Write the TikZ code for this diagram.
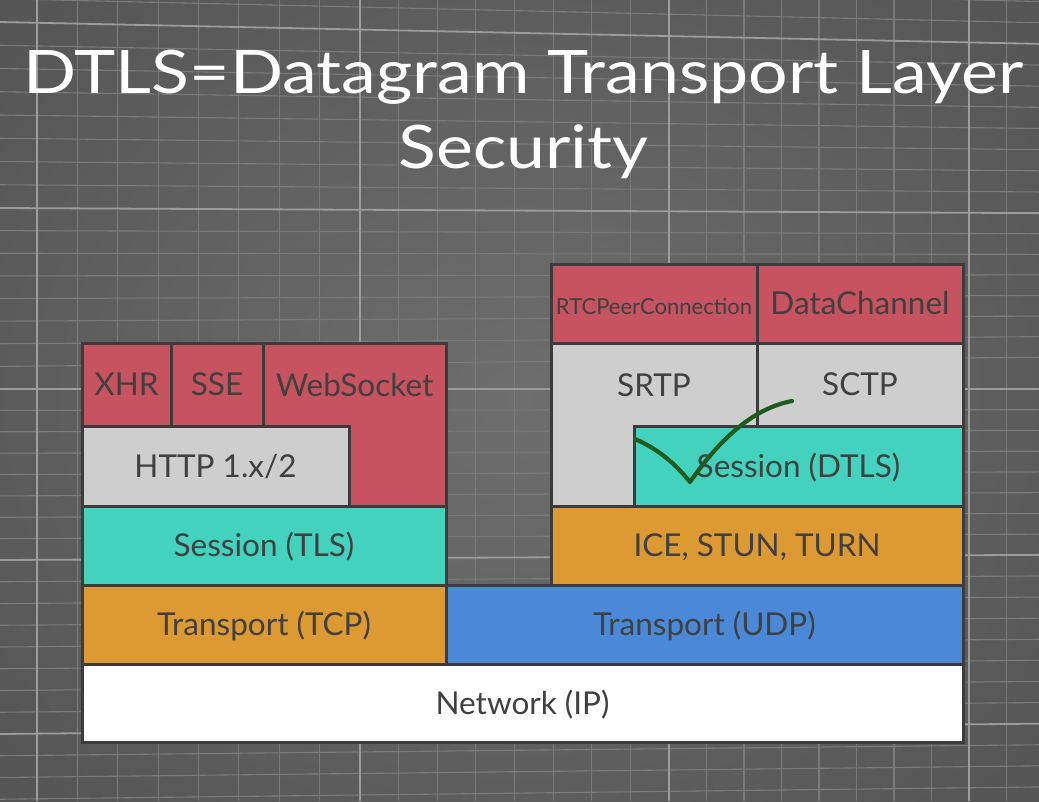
\documentclass[tikz,border=0pt]{standalone}
\usepackage{fontspec}
\setmainfont{Lato}
\definecolor{bginner}{RGB}{110,110,110}
\definecolor{bgouter}{RGB}{86,86,86}
\definecolor{gridminor}{RGB}{122,122,122}
\definecolor{gridmajor}{RGB}{156,156,156}
\definecolor{edge}{RGB}{60,60,60}
\definecolor{ink}{RGB}{64,64,64}
\definecolor{apired}{RGB}{199,82,96}
\definecolor{protogray}{RGB}{206,206,206}
\definecolor{sessteal}{RGB}{66,210,190}
\definecolor{transorange}{RGB}{222,154,50}
\definecolor{udpblue}{RGB}{74,136,216}
\definecolor{tickgreen}{RGB}{30,92,30}
\begin{document}
\begin{tikzpicture}[x=1pt,y=-1pt,
  layer/.style={draw=edge, line width=3pt, inner sep=0pt, outer sep=0pt,
    anchor=north west, text=ink,
    font=\fontsize{31.5}{31.5}\selectfont, text height=22.5pt, text depth=0pt},
  lbl/.style={inner sep=0pt, text=ink,
    font=\fontsize{31.5}{31.5}\selectfont, text height=22.5pt, text depth=0pt},
  title/.style={text=white, inner sep=0pt, anchor=base,
    font=\fontsize{60}{60}\selectfont},
  minorline/.style={draw=gridminor, line width=1.1pt},
  majorline/.style={draw=gridmajor, line width=1.8pt},
  tick/.style={draw=tickgreen, line width=4.2pt, line cap=round, line join=round}]

\useasboundingbox (0,0) rectangle (1039,801);

% backdrop with a soft vignette
\shade[inner color=bginner, outer color=bgouter] (-150,-150) rectangle (1189,951);

% engineering grid
\begin{scope}
  \clip (0,0) rectangle (1039,801);
  % vertical minor lines
  \foreach \a/\b in {37/360, 360/669, 669/969, 969/1269, -263/37}{
    \foreach \k in {1,...,7}{
      \pgfmathsetmacro\xx{\a+(\b-\a)*\k/8}
      \draw[minorline] (\xx,0) -- (\xx,801);
    }
  }
  % horizontal minor lines
  \foreach \a/\b in {-164/22, 22/208, 208/389, 389/560, 560/734, 734/908}{
    \foreach \k in {1,...,7}{
      \pgfmathsetmacro\yy{\a+(\b-\a)*\k/8}
      \pgfmathsetmacro\ss{\yy<389 ? 0.09*(265-\yy) : -0.03*(\yy-389)}
      \draw[minorline] (0,\yy) -- (1039,\yy+\ss);
    }
  }
  % major lines
  \foreach \xx in {37,360,669,969}{
    \draw[majorline] (\xx,0) -- (\xx,801);
  }
  \foreach \yy in {22,208,389,560,734}{
    \pgfmathsetmacro\ss{\yy<389 ? 0.09*(265-\yy) : -0.03*(\yy-389)}
    \draw[majorline] (0,\yy) -- (1039,\yy+\ss);
  }
\end{scope}

% heading
\node[title] (head1) at (523.5,93) {\scalebox{1.163}[1]{DTLS=Datagram Transport Layer}};
\node[title] (head2) at (523.5,168) {\scalebox{1.163}[1]{Security}};

% ---------- HTTP stack (left) ----------
\node[layer, fill=apired, minimum width=183, minimum height=163] (ws) at (263,343) {};
\node[lbl] (wslbl) at (354.5,385) {WebSocket};
\node[layer, fill=apired, minimum width=89, minimum height=83] (xhr) at (82,343) {XHR};
\node[layer, fill=apired, minimum width=92, minimum height=83] (sse) at (171,343) {SSE};
\node[layer, fill=protogray, minimum width=267, minimum height=80] (http) at (82,426) {HTTP 1.x/2};
\node[layer, fill=sessteal, minimum width=364, minimum height=79] (tls) at (82,506) {Session (TLS)};
\node[layer, fill=transorange, minimum width=364, minimum height=79] (tcp) at (82,585) {Transport (TCP)};

% ---------- WebRTC stack (right) ----------
\node[layer, fill=apired, minimum width=206, minimum height=79] (rtc) at (551,264)
  {\fontsize{22}{22}\selectfont RTCPeerConnection};
\node[layer, fill=apired, minimum width=206, minimum height=79] (dc) at (757,264) {DataChannel};
\node[layer, fill=protogray, minimum width=206, minimum height=163] (srtp) at (551,343) {};
\node[lbl] (srtplbl) at (654,385) {SRTP};
\node[layer, fill=protogray, minimum width=206, minimum height=83] (sctp) at (757,343) {SCTP};
\node[layer, fill=sessteal, minimum width=329, minimum height=80] (dtls) at (634,426) {Session (DTLS)};
\node[layer, fill=transorange, minimum width=412, minimum height=79] (ice) at (551,506) {ICE, STUN, TURN};

% ---------- shared lower layers ----------
\node[layer, fill=udpblue, minimum width=517, minimum height=79] (udp) at (446,585) {Transport (UDP)};
\node[layer, fill=white, minimum width=881, minimum height=78] (ip) at (82,664) {Network (IP)};

% hand-drawn tick over the DTLS layer
\draw[tick] (635,439) .. controls (656,448) and (674,462) .. (690,482)
  .. controls (722,436) and (755,408) .. (792,401);

\end{tikzpicture}
\end{document}
